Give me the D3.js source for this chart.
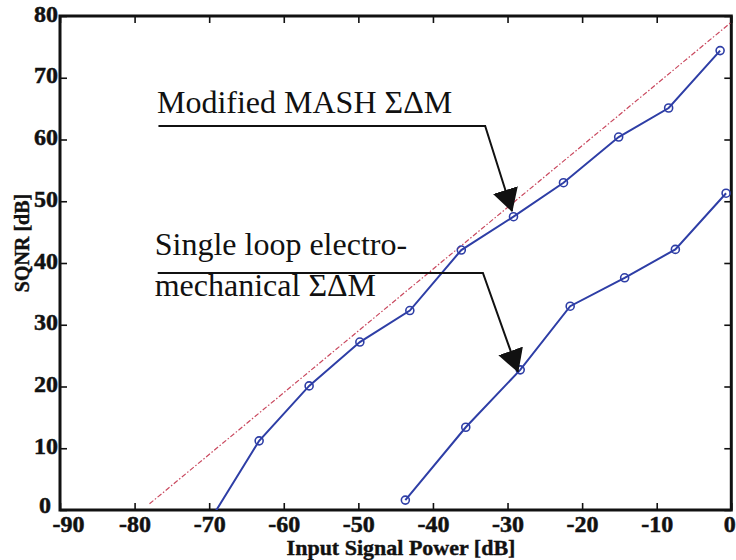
<!DOCTYPE html>
<html>
<head>
<meta charset="utf-8">
<script src="https://cdn.jsdelivr.net/npm/d3@7"></script>
<style>
  html, body { margin: 0; padding: 0; background: #fff; }
  svg { display: block; }
</style>
</head>
<body>
<svg id="chart" width="736" height="560"></svg>
<script>
// Tick values on both axes
const xTicks = [-90, -80, -70, -60, -50, -40, -30, -20, -10, 0];
const yTicks = [0, 10, 20, 30, 40, 50, 60, 70, 80];

// Modified MASH sigma-delta modulator: SQNR vs input signal power
const mashPower = [-70, -63.3, -56.6, -49.8, -43.1, -36.2, -29.2, -22.5, -15.1, -8.4, -1.5];
const mashSqnr  = [-1.9, 11.2, 20.1, 27.2, 32.3, 42.1, 47.5, 53.0, 60.4, 65.1, 74.4];

// Single loop electro-mechanical sigma-delta modulator
const singlePower = [-43.7, -35.6, -28.3, -21.6, -14.3, -7.5, -0.7];
const singleSqnr  = [1.6, 13.4, 22.7, 33.0, 37.6, 42.2, 51.3];

// Ideal reference line (dash-dot)
const idealPower = [-78, 0];
const idealSqnr  = [1, 79];

// Annotation labels
const labelMash   = ["Modified MASH ΣΔM"];
const labelSingle = ["Single loop electro-", "mechanical ΣΔM"];

const svg = d3.select("#chart");

const x = d3.scaleLinear().domain([-90, 0]).range([60, 731.3]);
const y = d3.scaleLinear().domain([0, 80]).range([510, 16]);

const serif = "'Liberation Serif', 'Times New Roman', Times, serif";
const lineBlue = "#2e3ea6";

// Clip region for the plotted data
const defs = svg.append("defs");
defs.append("clipPath").attr("id", "plotClip")
  .append("rect")
  .attr("x", x(-90)).attr("y", y(80))
  .attr("width", x(0) - x(-90)).attr("height", y(0) - y(80));

// Arrowhead marker
defs.append("marker")
  .attr("id", "arrow")
  .attr("viewBox", "0 0 24 26")
  .attr("refX", 22).attr("refY", 13)
  .attr("markerWidth", 24).attr("markerHeight", 26)
  .attr("markerUnits", "userSpaceOnUse")
  .attr("orient", "auto")
  .append("path")
  .attr("d", "M0,0 L23,13 L0,26 Z")
  .attr("fill", "#111");

// Axes: labelled bottom/left, tick-only top/right, ticks pointing inward
const tickLen = -7;
const plain = d => String(d);   // ASCII hyphen for negatives

const gBottom = svg.append("g")
  .attr("transform", `translate(0,${y(0)})`)
  .call(d3.axisBottom(x).tickValues(xTicks).tickFormat(plain)
    .tickSizeInner(tickLen).tickSizeOuter(0).tickPadding(5));

const gLeft = svg.append("g")
  .attr("transform", `translate(${x(-90)},0)`)
  .call(d3.axisLeft(y).tickValues(yTicks).tickFormat(plain)
    .tickSizeInner(tickLen).tickSizeOuter(0).tickPadding(2));

const gTop = svg.append("g")
  .attr("transform", `translate(0,${y(80)})`)
  .call(d3.axisTop(x).tickValues(xTicks).tickSizeInner(tickLen).tickSizeOuter(0).tickFormat(""));

const gRight = svg.append("g")
  .attr("transform", `translate(${x(0)},0)`)
  .call(d3.axisRight(y).tickValues(yTicks).tickSizeInner(tickLen).tickSizeOuter(0).tickFormat(""));

[gBottom, gLeft, gTop, gRight].forEach(g => {
  g.select(".domain").remove();
  g.selectAll(".tick line").attr("stroke", "#111").attr("stroke-width", 1.6);
  g.selectAll(".tick text")
    .attr("fill", "#111")
    .attr("stroke", "#111")
    .attr("stroke-width", 0.5)
    .style("font-family", serif)
    .style("font-weight", "bold")
    .style("font-size", "24px");
});
gLeft.selectAll(".tick text").attr("dy", "0.21em");
// keep the corner labels clear of each other and of the page edge
gLeft.selectAll(".tick text").filter(d => d === 0).attr("dx", -7).attr("dy", "0.1em");
gBottom.selectAll(".tick text").filter(d => d === -90).attr("dx", 8);
gBottom.selectAll(".tick text").filter(d => d === 0).attr("dx", -2);

// Plot frame
svg.append("rect")
  .attr("x", x(-90)).attr("y", y(80))
  .attr("width", x(0) - x(-90)).attr("height", y(0) - y(80))
  .attr("fill", "none").attr("stroke", "#111").attr("stroke-width", 3);

// Axis titles
svg.append("text")
  .attr("x", 401).attr("y", 555)
  .attr("text-anchor", "middle")
  .attr("stroke", "#111").attr("stroke-width", 0.4)
  .style("font-family", serif).style("font-weight", "bold").style("font-size", "22px")
  .attr("fill", "#111")
  .text("Input Signal Power [dB]");

svg.append("text")
  .attr("transform", "translate(29,243) rotate(-90)")
  .attr("text-anchor", "middle")
  .attr("stroke", "#111").attr("stroke-width", 0.4)
  .style("font-family", serif).style("font-weight", "bold").style("font-size", "20px")
  .attr("fill", "#111")
  .text("SQNR [dB]");

// Data layer
const plot = svg.append("g").attr("clip-path", "url(#plotClip)");
const line = d3.line().x(d => x(d[0])).y(d => y(d[1]));

plot.append("path")
  .datum(d3.zip(idealPower, idealSqnr))
  .attr("d", line)
  .attr("fill", "none")
  .attr("stroke", "#c9485e")
  .attr("stroke-width", 1.2)
  .attr("stroke-dasharray", "5,2,1.5,2");

function drawSeries(px, py) {
  const pts = d3.zip(px, py);
  plot.append("path")
    .datum(pts)
    .attr("d", line)
    .attr("fill", "none")
    .attr("stroke", lineBlue)
    .attr("stroke-width", 2);
  plot.selectAll(null)
    .data(pts)
    .join("circle")
    .attr("cx", d => x(d[0]))
    .attr("cy", d => y(d[1]))
    .attr("r", 4)
    .attr("fill", "none")
    .attr("stroke", lineBlue)
    .attr("stroke-width", 1.6);
}
drawSeries(mashPower, mashSqnr);
drawSeries(singlePower, singleSqnr);

// Annotations with leader lines and arrows
function annotate(lines, textX, firstBaseline, lineGap, ruleY, ruleX0, ruleX1, tip) {
  const t = svg.append("text")
    .style("font-family", serif)
    .style("font-size", "32px")
    .attr("fill", "#111");
  lines.forEach((s, i) => {
    t.append("tspan")
      .attr("x", x(textX))
      .attr("y", y(firstBaseline) + i * lineGap)
      .text(s);
  });
  svg.append("path")
    .attr("d", d3.line()([
      [x(ruleX0), y(ruleY)],
      [x(ruleX1), y(ruleY)],
      [x(tip[0]), y(tip[1])]
    ]))
    .attr("fill", "none")
    .attr("stroke", "#111")
    .attr("stroke-width", 2)
    .attr("marker-end", "url(#arrow)");
}

annotate(labelMash, -77.0, 64.3, 0, 62.2, -76.8, -33.0, [-29.4, 48.4]);
annotate(labelSingle, -77.3, 41.3, 41, 38.4, -76.9, -33.3, [-28.6, 22.4]);
</script>
</body>
</html>
